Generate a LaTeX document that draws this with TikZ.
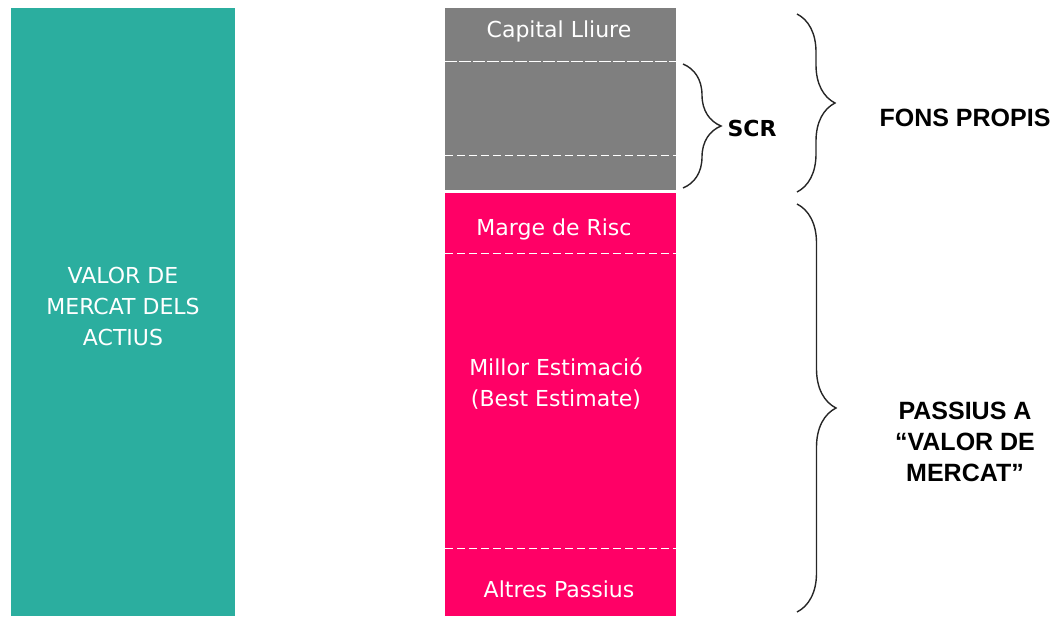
\documentclass[tikz,border=0pt]{standalone}
\usepackage{fontspec}
\setmainfont{DejaVu Sans}
\newfontfamily\labelfont{Liberation Sans}
\usetikzlibrary{decorations.pathreplacing,positioning}
\definecolor{actiu}{HTML}{2BAE9F}
\definecolor{fons}{HTML}{7F7F7F}
\definecolor{passiu}{HTML}{FF0066}

\tikzset{
  bloc/.style={anchor=north west, inner sep=0pt, minimum width=231pt},
  blanc/.style={text=white, font=\fontsize{22}{31}\selectfont, align=center},
  tall/.style={white, line width=1pt, dash pattern=on 8pt off 4pt},
  clau/.style={decorate, decoration={brace, amplitude=#1}, line width=1.4pt, black!85},
  etiqueta/.style={font=\labelfont\bfseries\fontsize{25}{31}\selectfont, align=center}
}

\begin{document}
\begin{tikzpicture}[x=1pt, y=-1pt]
\useasboundingbox (0,0) rectangle (1055,616);

% actius
\node[bloc, fill=actiu, minimum width=224pt, minimum height=608pt] (actius) at (11,8) {};
\node[blanc] (actiustxt) at (123,306) {VALOR DE\\MERCAT DELS\\ACTIUS};

% fons propis
\node[bloc, fill=fons, minimum height=53pt] (capital) at (445,8) {};
\node[bloc, fill=fons, minimum height=129pt] (scr) at (445,61) {};
\node[blanc] (capitaltxt) at (559,31) {Capital Lliure};
\draw[tall, dash pattern=on 12pt off 2pt] (capital.south west) -- (capital.south east);
\draw[tall] ([yshift=35pt]scr.south west) -- ([yshift=35pt]scr.south east);

% passius
\node[bloc, fill=passiu, minimum height=60pt] (marge) at (445,193) {};
\node[bloc, fill=passiu, minimum height=295pt] (estimacio) at (445,253) {};
\node[bloc, fill=passiu, minimum height=68pt] (altres) at (445,548) {};
\node[blanc] (margetxt) at (554,229) {Marge de Risc};
\node[blanc] (estimaciotxt) at (556,384) {Millor Estimació\\(Best Estimate)};
\node[blanc] (altrestxt) at (559,589) {Altres Passius};
\draw[tall] (marge.south west) -- (marge.south east);
\draw[tall] (estimacio.south west) -- (estimacio.south east);

% claus
\coordinate (scr-a) at (683,64);
\coordinate (scr-b) at (683,188);
\coordinate (fons-a) at (797,14);
\coordinate (fons-b) at (797,192);
\coordinate (passiu-a) at (797,204);
\coordinate (passiu-b) at (797,612);
\draw[clau=38pt] (scr-a) -- (scr-b);
\draw[clau=38pt] (fons-a) -- (fons-b);
\draw[clau=39pt] (passiu-a) -- (passiu-b);

\node[anchor=west, font=\bfseries\fontsize{22}{25}\selectfont] (scrtxt) at (724,128) {SCR};
\node[etiqueta] (fonstxt) at (965,118) {FONS PROPIS};
\node[etiqueta] (passiutxt) at (965,442) {PASSIUS A\\“VALOR DE\\MERCAT”};
\end{tikzpicture}
\end{document}
